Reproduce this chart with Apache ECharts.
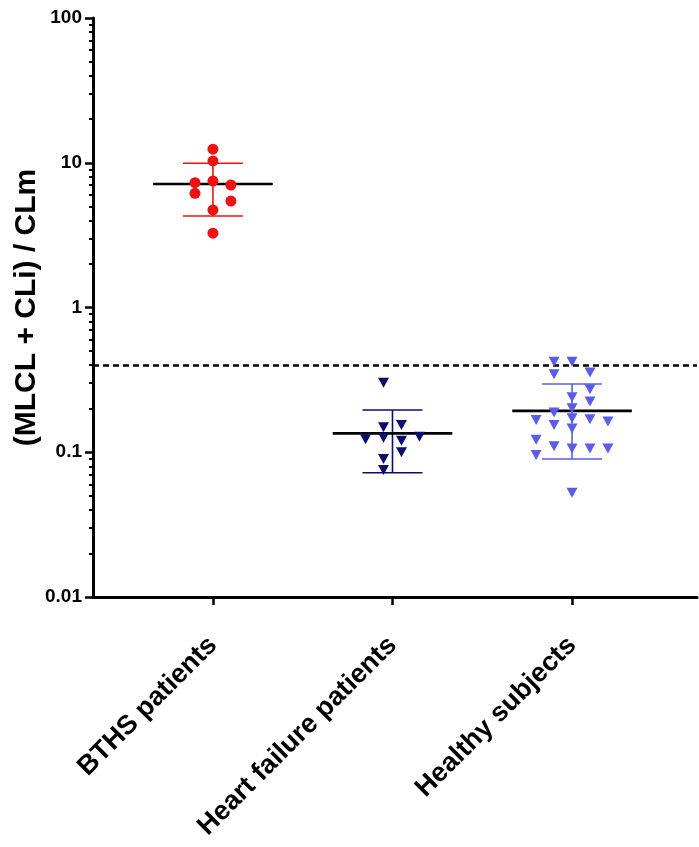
<!DOCTYPE html>
<html>
<head>
<meta charset="utf-8">
<script src="https://cdn.jsdelivr.net/npm/echarts@6/dist/echarts.min.js"></script>
<style>
html,body{margin:0;padding:0;background:#fff;}
#chart{width:699px;height:847px;}
</style>
</head>
<body>
<div id="chart"></div>
<script>
const categories = ['BTHS patients', 'Heart failure patients', 'Healthy subjects'];
const yTickLabels = ['0.01', '0.1', '1', '10', '100'];

const bthsValues = [12.4, 10.3, 7.28, 7.48, 7.02, 6.15, 5.44, 4.72, 3.26];
const bthsJitter = [0, 0, -0.1, 0, 0.1, -0.1, 0.1, 0, 0];

const hfValues = [0.302, 0.154, 0.149, 0.123, 0.126, 0.128, 0.120, 0.100, 0.0898, 0.0753];
const hfJitter = [-0.05, 0.05, -0.05, -0.15, -0.05, 0.15, 0.05, 0.05, -0.05, -0.05];

const healthyValues = [0.422, 0.422, 0.346, 0.355, 0.272, 0.240, 0.224, 0.201, 0.188, 0.167, 0.154, 0.172, 0.169, 0.163, 0.146, 0.122, 0.110, 0.106, 0.106, 0.106, 0.0957, 0.0526];
const healthyJitter = [-0.1, 0, -0.1, 0.1, 0.1, 0, 0.1, 0, -0.1, -0.2, -0.1, 0, 0.1, 0.2, 0, -0.2, -0.1, 0, 0.1, 0.2, -0.2, 0];

const groupMeans = [7.13, 0.135, 0.193];
const groupSdHigh = [9.91, 0.196, 0.296];
const groupSdLow = [4.29, 0.0722, 0.0898];

const thresholdValue = 0.4;

const colors = ['#ee1111', '#0c0c6e', '#5c5ce8'];
const FONT = "'Liberation Sans', Arial, sans-serif";

function pts(vals, jit, idx) {
  return vals.map((v, i) => [idx + 1 + jit[i], v]);
}

const minorTicks = [];
[-2, -1, 0, 1].forEach(d => {
  for (let k = 2; k <= 9; k++) minorTicks.push(d + Math.log10(k));
});

const summaryData = categories.map((c, i) => [i + 1, groupMeans[i], groupSdLow[i], groupSdHigh[i]]);

const chart = echarts.init(document.getElementById('chart'), null, {renderer: 'canvas'});
chart.setOption({
  backgroundColor: '#fff',
  animation: false,
  grid: {left: 93, right: 2, top: 18, bottom: 250, containLabel: false, outerBoundsMode: 'none'},
  xAxis: {
    type: 'value',
    min: 0.332,
    max: 3.696,
    splitLine: {show: false},
    axisLine: {show: true, onZero: false, lineStyle: {color: '#000', width: 3}},
    axisTick: {show: true, customValues: [1, 2, 3], length: 8, lineStyle: {color: '#000', width: 2.5}},
    axisLabel: {
      customValues: [1, 2, 3],
      formatter: v => categories[Math.round(v) - 1],
      rotate: 45,
      margin: 44,
      color: '#000',
      fontFamily: FONT,
      fontWeight: 'bold',
      fontSize: 27
    }
  },
  yAxis: [{
    type: 'log',
    logBase: 10,
    min: 0.01,
    max: 100,
    name: '(MLCL + CLi) / CLm',
    nameLocation: 'middle',
    nameRotate: 90,
    nameGap: 51,
    nameMoveOverlap: false,
    nameTextStyle: {color: '#000', fontFamily: FONT, fontWeight: 'bold', fontSize: 30},
    splitLine: {show: false},
    axisLine: {show: true, lineStyle: {color: '#000', width: 3}},
    axisTick: {show: true, length: 8, lineStyle: {color: '#000', width: 2.5}},
    axisLabel: {
      margin: 11,
      color: '#000',
      fontFamily: FONT,
      fontWeight: 'bold',
      fontSize: 19,
      formatter: v => yTickLabels[Math.round(Math.log10(v)) + 2]
    }
  }, {
    type: 'value',
    min: -2,
    max: 2,
    position: 'left',
    splitLine: {show: false},
    axisLine: {show: false},
    axisLabel: {show: false},
    axisTick: {show: true, customValues: minorTicks, length: 4, lineStyle: {color: '#000', width: 2}}
  }],
  series: [
    {
      type: 'custom',
      xAxisIndex: 0,
      yAxisIndex: 0,
      z: 2,
      data: summaryData,
      encode: {x: 0, y: [1, 2, 3]},
      renderItem: function (params, api) {
        const x = api.value(0), m = api.value(1), lo = api.value(2), hi = api.value(3);
        const col = colors[params.dataIndex];
        const meanHalf = 0.333, capHalf = 0.167;
        const a = api.coord([x, lo]), b = api.coord([x, hi]);
        const c1 = api.coord([x - capHalf, hi]), c2 = api.coord([x + capHalf, hi]);
        const d1 = api.coord([x - capHalf, lo]), d2 = api.coord([x + capHalf, lo]);
        const m1 = api.coord([x - meanHalf, m]), m2 = api.coord([x + meanHalf, m]);
        const es = {stroke: col, lineWidth: 1.6};
        return {
          type: 'group',
          children: [
            {type: 'line', shape: {x1: a[0], y1: a[1], x2: b[0], y2: b[1]}, style: es},
            {type: 'line', shape: {x1: c1[0], y1: c1[1], x2: c2[0], y2: c2[1]}, style: es},
            {type: 'line', shape: {x1: d1[0], y1: d1[1], x2: d2[0], y2: d2[1]}, style: es},
            {type: 'line', shape: {x1: m1[0], y1: m1[1], x2: m2[0], y2: m2[1]}, style: {stroke: '#000', lineWidth: 2.6}}
          ]
        };
      },
      markLine: {
        silent: true,
        symbol: 'none',
        label: {show: false},
        lineStyle: {color: '#000', width: 2.5, type: [6, 4]},
        emphasis: {disabled: true},
        data: [{yAxis: thresholdValue}]
      }
    },
    {
      name: categories[0],
      type: 'scatter',
      z: 5,
      symbol: 'circle',
      symbolSize: 11,
      itemStyle: {color: colors[0], opacity: 1},
      data: pts(bthsValues, bthsJitter, 0)
    },
    {
      name: categories[1],
      type: 'scatter',
      z: 5,
      symbol: 'triangle',
      symbolRotate: 180,
      symbolSize: [11, 10],
      itemStyle: {color: colors[1], opacity: 1},
      data: pts(hfValues, hfJitter, 1)
    },
    {
      name: categories[2],
      type: 'scatter',
      z: 5,
      symbol: 'triangle',
      symbolRotate: 180,
      symbolSize: [11, 10],
      itemStyle: {color: colors[2], opacity: 1},
      data: pts(healthyValues, healthyJitter, 2)
    }
  ]
});
</script>
</body>
</html>
